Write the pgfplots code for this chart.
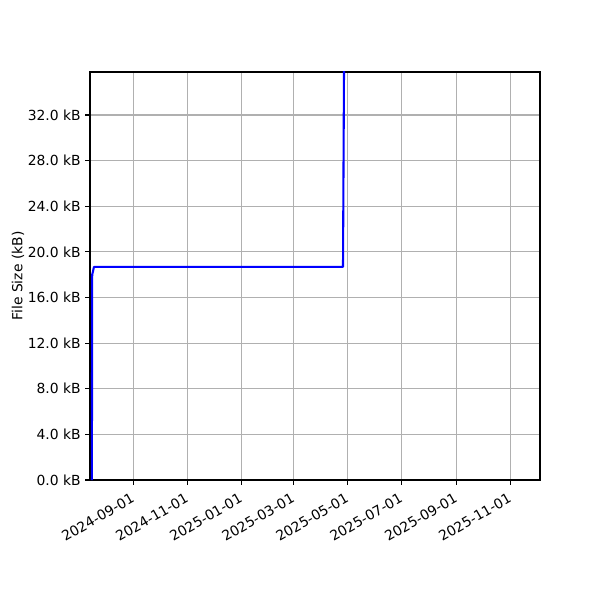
\documentclass[border=0pt]{standalone}
\usepackage{fontspec}
\setmainfont{DejaVu Sans}
\usepackage{pgfplots}
\pgfplotsset{compat=1.18}
\definecolor{gridgray}{HTML}{B0B0B0}
% x values are days after 2024-09-01
\begin{document}
\begin{tikzpicture}
\begin{axis}[name=ax, scale only axis, width=324pt, height=293.76pt,
  font=\fontsize{10pt}{12pt}\selectfont,
  xmin=-48.9, xmax=459.6, ymin=0, ymax=35.77,
  xtick={0,61,122,181,242,303,365,426},
  xticklabels={2024-09-01,2024-11-01,2025-01-01,2025-03-01,2025-05-01,2025-07-01,2025-09-01,2025-11-01},
  ytick={0,4,8,12,16,20,24,28,32},
  yticklabels={0.0 kB,4.0 kB,8.0 kB,12.0 kB,16.0 kB,20.0 kB,24.0 kB,28.0 kB,32.0 kB},
  xticklabel style={rotate=30, anchor=north east, inner sep=1pt, xshift=-3.5pt, yshift=-2.5pt},
  yticklabel style={inner sep=1pt, xshift=-2pt},
  tick align=outside, major tick length=3.5pt,
  xtick pos=bottom, ytick pos=left,
  tick style={black, line width=0.8pt},
  axis line style={line width=0.8pt},
  grid=major, major grid style={gridgray, line width=0.8pt},
  ylabel={File Size (kB)}, ylabel style={yshift=-2pt},
  /pgf/number format/assume math mode=true,
]
\addplot[blue, line width=1.5pt, line join=round] coordinates {
  (-46.8,0) (-46.4,18.0) (-44.4,18.68) (237.0,18.68) (238.4,40)
};
\end{axis}
\pgfresetboundingbox
\path[use as bounding box] ([xshift=-64.8pt,yshift=-86.4pt]ax.south west) rectangle ([xshift=43.2pt,yshift=51.84pt]ax.north east);
\end{tikzpicture}
\end{document}
